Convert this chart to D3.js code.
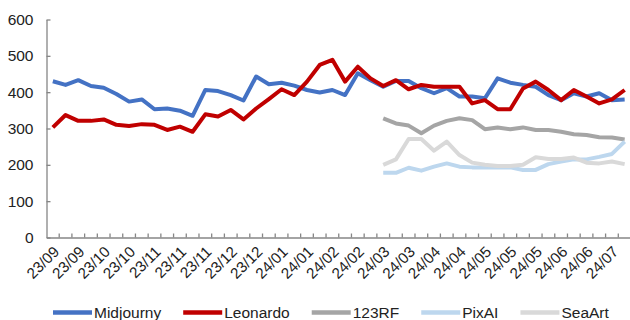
<!DOCTYPE html>
<html>
<head>
<meta charset="utf-8">
<script src="https://cdn.jsdelivr.net/npm/d3@7"></script>
<style>
  html, body { margin: 0; padding: 0; background: #fff; }
  svg { display: block; font-family: "Liberation Sans", Arial, sans-serif; }
</style>
</head>
<body>
<svg id="chart" width="630" height="320"></svg>
<script>
// ---------- data ----------
const categories = [
  "23/09","23/09","23/09","23/09","23/10","23/10","23/10","23/10",
  "23/11","23/11","23/11","23/11","23/11","23/12","23/12","23/12",
  "23/12","24/01","24/01","24/01","24/01","24/02","24/02","24/02",
  "24/02","24/03","24/03","24/03","24/03","24/04","24/04","24/04",
  "24/04","24/05","24/05","24/05","24/05","24/05","24/05","24/06",
  "24/06","24/06","24/06","24/07","24/07","24/07"
];
const midjourny = [430,420,433,417,412,395,374,380,353,355,349,335,406,403,392,377,
  443,422,426,418,406,399,406,392,452,433,415,431,431,411,397,411,388,388,383,438,
  426,420,415,392,378,397,388,397,378,380];
const leonardo = [303,337,321,321,325,310,307,312,310,296,305,291,339,333,351,325,
  355,381,408,392,429,475,489,429,470,438,417,433,408,420,415,415,415,369,378,353,
  353,410,429,406,378,406,388,369,380,406];
const rf123 = [null,null,null,null,null,null,null,null,null,null,null,null,null,null,null,null,
  null,null,null,null,null,null,null,null,null,null,328,314,308,287,308,321,328,323,298,303,
  298,303,296,296,291,284,282,276,275,270];
const pixai = [null,null,null,null,null,null,null,null,null,null,null,null,null,null,null,null,
  null,null,null,null,null,null,null,null,null,null,178,178,192,184,195,204,195,193,193,193,
  193,186,186,202,209,215,215,222,230,264];
const seaart = [null,null,null,null,null,null,null,null,null,null,null,null,null,null,null,null,
  null,null,null,null,null,null,null,null,null,null,200,215,271,271,239,264,227,206,200,197,
  197,200,221,216,216,220,206,204,209,202];
const seriesNames = ["Midjourny","Leonardo","123RF","PixAI","SeaArt"];
const seriesColors = ["#4472C4","#C00000","#A5A5A5","#BDD7EE","#D9D9D9"];
const yTicks = [0,100,200,300,400,500,600];

const seriesValues = [midjourny, leonardo, rf123, pixai, seaart];

// ---------- layout ----------
const svg = d3.select("#chart");
const plotLeft = 46.5, plotRight = 631, plotTop = 19.5, plotBottom = 237.5;
const axisColor = "#868686";
const textColor = "#222";

const x = d3.scaleBand().domain(d3.range(categories.length)).range([plotLeft, plotRight]).paddingInner(0).paddingOuter(0);
const cx = i => x(i) + x.bandwidth() / 2;
const y = d3.scaleLinear().domain([0, 600]).range([plotBottom, plotTop]);

// y axis
const yAxis = d3.axisLeft(y).tickValues(yTicks).tickSizeInner(-4).tickSizeOuter(0).tickPadding(13);
const gy = svg.append("g").attr("transform", `translate(${plotLeft},0)`).call(yAxis);
gy.select(".domain").attr("stroke", axisColor).attr("stroke-width", 1.3);
gy.selectAll(".tick line").attr("stroke", axisColor).attr("stroke-width", 1.3);
gy.selectAll(".tick text").attr("fill", textColor).style("font-size", "15.5px");

// x axis (labels every other category)
const xAxis = d3.axisBottom(x)
  .tickValues(d3.range(0, categories.length, 2))
  .tickSize(0).tickSizeOuter(0)
  .tickFormat(i => categories[i]);
const gx = svg.append("g").attr("transform", `translate(0,${plotBottom})`).call(xAxis);
gx.select(".domain").attr("stroke", axisColor).attr("stroke-width", 1.3);
gx.selectAll(".tick text")
  .attr("fill", textColor)
  .style("font-size", "15.3px")
  .attr("text-anchor", "end")
  .attr("x", 0).attr("y", 0).attr("dy", "0.35em")
  .attr("transform", "translate(3.5,11.5) rotate(-45)");

// inside tick marks at category boundaries
svg.append("g").selectAll("line")
  .data(d3.range(1, categories.length))
  .join("line")
  .attr("x1", d => x(d)).attr("x2", d => x(d))
  .attr("y1", plotBottom).attr("y2", plotBottom - 4)
  .attr("stroke", axisColor).attr("stroke-width", 1.3);

// lines
const line = d3.line()
  .defined(d => d.v != null)
  .x(d => cx(d.i))
  .y(d => y(d.v));

seriesValues.forEach((vals, k) => {
  svg.append("path")
    .datum(vals.map((v, i) => ({ i, v })))
    .attr("fill", "none")
    .attr("stroke", seriesColors[k])
    .attr("stroke-width", 4)
    .attr("stroke-linejoin", "round")
    .attr("d", line);
});

// legend
const legend = svg.append("g");
let lx = 53;
seriesNames.forEach((name, k) => {
  legend.append("line")
    .attr("x1", lx).attr("x2", lx + 39)
    .attr("y1", 312.5).attr("y2", 312.5)
    .attr("stroke", seriesColors[k]).attr("stroke-width", 4.5);
  const t = legend.append("text")
    .attr("x", lx + 41).attr("y", 318)
    .attr("fill", textColor)
    .style("font-size", "15.5px")
    .text(name);
  lx += 41 + t.node().getComputedTextLength() + 22;
});
</script>
</body>
</html>
